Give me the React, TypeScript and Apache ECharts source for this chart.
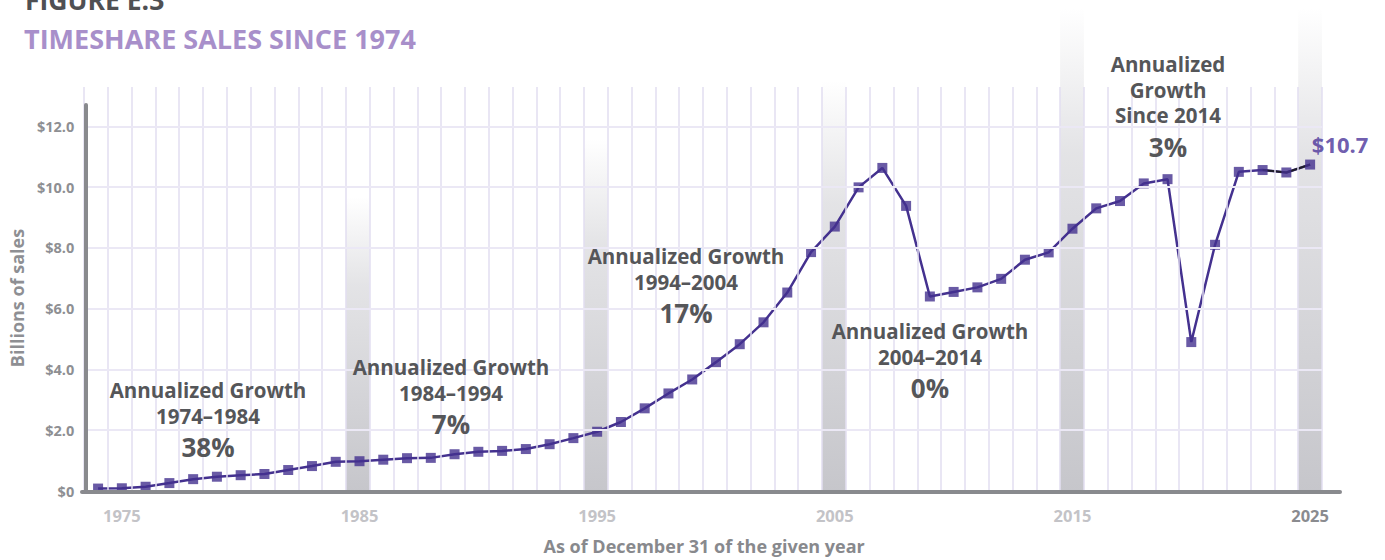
import React, { useEffect, useRef } from "react";
import * as echarts from "echarts";

const years: string[] = [];
for (let y = 1974; y <= 2025; y++) years.push(String(y));

const sales = [
  0.08, 0.09, 0.14, 0.26, 0.39, 0.47, 0.52, 0.56, 0.69, 0.82,
  0.96, 0.98, 1.03, 1.08, 1.09, 1.21, 1.29, 1.32, 1.38, 1.54,
  1.74, 1.95, 2.27, 2.72, 3.21, 3.67, 4.24, 4.83, 5.55, 6.53,
  7.86, 8.7, 9.99, 10.63, 9.38, 6.4, 6.55, 6.7, 6.98, 7.61,
  7.85, 8.63, 9.3, 9.54, 10.12, 10.26, 4.9, 8.1, 10.5, 10.56,
  10.48, 10.74,
];

const labelYears = ["1975", "1985", "1995", "2005", "2015", "2025"];
const bandYears = ["1985", "1995", "2005", "2015", "2025"];
const bandHeights = [0.61, 0.73, 0.85, 1.0, 1.0];

const yTicks = [0, 2, 4, 6, 8, 10, 12];

const annotations = [
  { x: 208, lines: ["Annualized Growth", "1974–1984"], pct: "38%", y0: 390 },
  { x: 451, lines: ["Annualized Growth", "1984–1994"], pct: "7%", y0: 367 },
  { x: 686, lines: ["Annualized Growth", "1994–2004"], pct: "17%", y0: 256 },
  { x: 930, lines: ["Annualized Growth", "2004–2014"], pct: "0%", y0: 331 },
  { x: 1168, lines: ["Annualized", "Growth", "Since 2014"], pct: "3%", y0: 64 },
];

const FONT = "Open Sans";
const AXIS_GRAY = "#898a8e";
const LINE_PURPLE = "#44318f";
const TEXT_DARK = "#555659";

export default function App() {
  const ref = useRef<HTMLDivElement>(null);
  useEffect(() => {
    if (!ref.current) return;
    const chart = echarts.init(ref.current, null, { renderer: "svg" });

    const graphics: any[] = [
      {
        type: "text",
        left: 25,
        top: -14,
        style: { text: "FIGURE E.3", fontFamily: FONT, fontWeight: "bold", fontSize: 26.5, fill: "#4f5053" },
      },
    ];
    annotations.forEach((a) => {
      a.lines.forEach((ln, i) => {
        graphics.push({
          type: "text",
          x: a.x,
          y: a.y0 + i * 25.5,
          style: {
            text: ln,
            fontFamily: FONT,
            fontWeight: "bold",
            fontSize: 20.5,
            fill: TEXT_DARK,
            align: "center",
            verticalAlign: "middle",
          },
          z: 20,
        });
      });
      graphics.push({
        type: "text",
        x: a.x,
        y: a.y0 + a.lines.length * 25.5 + 6,
        style: {
          text: a.pct,
          fontFamily: FONT,
          fontWeight: "bold",
          fontSize: 26,
          fill: TEXT_DARK,
          align: "center",
          verticalAlign: "middle",
        },
        z: 20,
      });
    });

    const lastIdx = years.length - 1;
    const option: any = {
      animation: false,
      textStyle: { fontFamily: FONT },
      title: {
        text: "TIMESHARE SALES SINCE 1974",
        left: 24,
        top: 25,
        padding: 0,
        textStyle: { fontFamily: FONT, fontWeight: "bold", fontSize: 27, color: "#a88fca" },
      },
      graphic: graphics,
      grid: [
        { left: 84, right: 63, top: 105, bottom: 68 },
        { left: 84, right: 63, top: 87, bottom: 68 },
        { left: 84, right: 63, top: 8, bottom: 68 },
        { left: 82, right: 45, top: 0, bottom: 68 },
      ],
      xAxis: [
        {
          gridIndex: 0,
          type: "category",
          data: years,
          boundaryGap: true,
          axisLine: { show: false },
          axisTick: { show: false },
          splitLine: { show: false },
          axisLabel: {
            interval: (idx: number, val: string) => labelYears.indexOf(val) >= 0,
            margin: 16,
            fontSize: 16.5,
            fontWeight: "bold",
            fontFamily: FONT,
            color: (val: string) => (val === "2025" ? "#8a8b8f" : "#c3c3c7"),
          },
          name: "As of December 31 of the given year",
          nameLocation: "middle",
          nameGap: 46,
          nameTextStyle: { fontFamily: FONT, fontWeight: "bold", fontSize: 18, color: "#88898d" },
        },
        {
          gridIndex: 1,
          type: "category",
          data: years,
          boundaryGap: true,
          z: 5,
          axisLine: { show: false },
          axisTick: { show: false },
          axisLabel: { show: false },
          splitLine: { show: true, interval: 0, lineStyle: { color: "#e2def0", width: 1.5 } },
        },
        { gridIndex: 2, type: "category", data: years, boundaryGap: true, show: false },
        {
          gridIndex: 3,
          type: "value",
          z: 10,
          axisLine: { show: true, lineStyle: { color: AXIS_GRAY, width: 4 } },
          axisTick: { show: false },
          axisLabel: { show: false },
          splitLine: { show: false },
        },
      ],
      yAxis: [
        {
          gridIndex: 0,
          type: "value",
          min: 0,
          max: 12.7,
          interval: 2,
          z: 10,
          axisLine: { show: true, lineStyle: { color: AXIS_GRAY, width: 4 } },
          axisTick: { show: false },
          axisLabel: {
            margin: 12,
            fontSize: 14.5,
            fontWeight: "bold",
            fontFamily: FONT,
            color: "#8e8f93",
            showMaxLabel: false,
            formatter: (v: number) =>
              yTicks.indexOf(v) < 0 ? "" : v === 0 ? "$0" : "$" + v.toFixed(1),
          },
          splitLine: {
            show: true,
            showMaxLine: false,
            showMinLine: false,
            lineStyle: { color: "#ebe8f5", width: 2 },
          },
          name: "Billions of sales",
          nameLocation: "middle",
          nameRotate: 90,
          nameGap: 54,
          nameTextStyle: { fontFamily: FONT, fontWeight: "bold", fontSize: 18, color: "#8e8f93" },
        },
        { gridIndex: 1, type: "value", show: false },
        { gridIndex: 2, type: "value", min: 0, max: 1, show: false },
        { gridIndex: 3, type: "value", show: false },
      ],
      series: [
        {
          type: "bar",
          xAxisIndex: 2,
          yAxisIndex: 2,
          silent: true,
          barWidth: "100%",
          z: 1,
          data: years.map((y) => {
            const i = bandYears.indexOf(y);
            return i >= 0 ? bandHeights[i] : null;
          }),
          itemStyle: {
            color: new echarts.graphic.LinearGradient(0, 0, 0, 1, [
              { offset: 0, color: "rgba(200,200,205,0)" },
              { offset: 0.3, color: "rgba(200,200,205,0.5)" },
              { offset: 1, color: "rgba(198,198,203,1)" },
            ]),
          },
        },
        {
          type: "line",
          xAxisIndex: 0,
          yAxisIndex: 0,
          data: sales,
          symbol: "none",
          z: 3,
          lineStyle: { color: LINE_PURPLE, width: 2.5 },
          itemStyle: { color: LINE_PURPLE },
        },
        {
          type: "line",
          xAxisIndex: 0,
          yAxisIndex: 0,
          data: sales.map((v, i) => (i >= lastIdx - 2 ? v : null)),
          symbol: "none",
          z: 4,
          lineStyle: { color: "#1f1d28", width: 2 },
        },
        {
          type: "scatter",
          xAxisIndex: 0,
          yAxisIndex: 0,
          symbol: "rect",
          symbolSize: 10,
          z: 5,
          itemStyle: { color: LINE_PURPLE },
          data: sales.map((v, i) =>
            i === lastIdx
              ? {
                  value: v,
                  label: {
                    show: true,
                    position: "top",
                    offset: [30, 0],
                    formatter: "$" + v.toFixed(1),
                    fontFamily: FONT,
                    fontWeight: "bold",
                    fontSize: 22,
                    color: "#4a3399",
                  },
                }
              : v
          ),
        },
      ],
    };
    chart.setOption(option);
    return () => chart.dispose();
  }, []);
  return (
    <div
      ref={ref}
      style={{ position: "fixed", left: 0, top: 0, width: 1385, height: 560, background: "#fff" }}
    />
  );
}
